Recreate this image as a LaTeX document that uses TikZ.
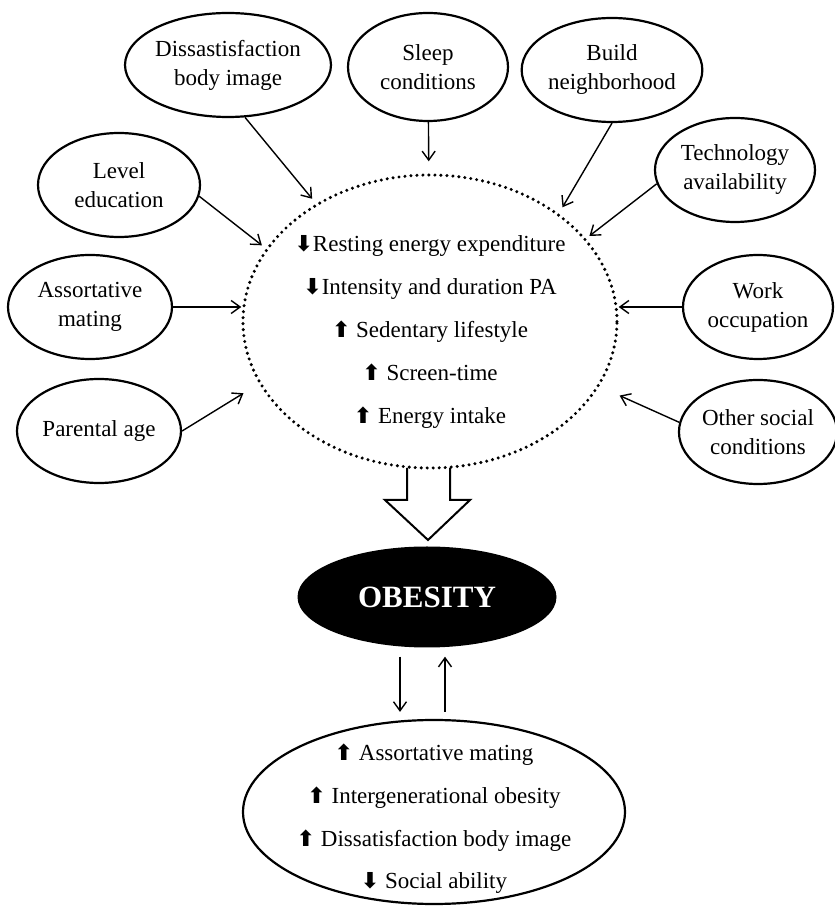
\documentclass[tikz,border=0pt]{standalone}
\usepackage{fontspec}
\setmainfont{Liberation Serif}
\newfontfamily\arrowfont{DejaVu Sans}
\usetikzlibrary{shapes.geometric,arrows.meta}
\newcommand{\incr}{{\arrowfont\bfseries\fontsize{22pt}{22pt}\selectfont ⬆}}
\newcommand{\decr}{{\arrowfont\bfseries\fontsize{22pt}{22pt}\selectfont ⬇}}

\begin{document}
\begin{tikzpicture}[x=1pt, y=1pt, font=\fontsize{23pt}{29pt}\selectfont,
	factor/.style={draw, ellipse, line width=2.2pt, inner sep=0pt, align=center, minimum height=104pt},
	link/.style={line width=1.4pt, -{Straight Barb[length=9pt,width=13pt,line width=1.4pt]}}]
	\useasboundingbox (0,0) rectangle (835,906);
	% factors round the centre
	\node[factor, minimum width=204pt] (dissat) at (228,841) {Dissastisfaction\\body image};
	\node[factor, minimum width=160pt, minimum height=108pt] (sleep) at (428,839) {Sleep\\conditions};
	\node[factor, minimum width=172pt] (build) at (612,836) {Build\\neighborhood};
	\node[factor, minimum width=160pt] (techno) at (735,736) {Technology\\availability};
	\node[factor, minimum width=162pt] (level) at (119,721) {Level\\education};
	\node[factor, minimum width=164pt] (assort) at (90,599) {Assortative\\mating};
	\node[factor, minimum width=164pt] (parental) at (99,475) {Parental age};
	\node[factor, minimum width=150pt] (work) at (758,599) {Work\\occupation};
	\node[factor, minimum width=156pt] (other) at (758,474) {Other social\\conditions};
	% energy balance
	\node[draw, ellipse, line width=3.4pt, line cap=round, dash pattern=on 0pt off 6pt, minimum width=374pt, minimum height=293pt] (centre) at (430,584.5) {};
	\node[align=center, font=\fontsize{23pt}{43pt}\selectfont] (balance) at (430,574) {\decr Resting energy expenditure\\\decr Intensity and duration PA\\\incr\ Sedentary lifestyle\\\incr\ Screen-time\\\incr\ Energy intake};
	\draw[link, shorten >=6pt] (dissat.-72) -- (centre.134);
	\draw[link, shorten >=12pt] (sleep) -- (centre);
	\draw[link, shorten >=7pt] (build.south) -- (centre.40);
	\draw[link, shorten >=4pt] (techno.190) -- (centre.28);
	\draw[link, shorten >=5pt] (level.-8) -- (centre.156);
	\draw[link] (assort.east) -- (assort.east -| centre.west);
	\draw[link, shorten >=18pt] (parental.east) -- (centre.200);
	\draw[link] (work.west) -- (work.west -| centre.east);
	\draw[link, shorten >=22pt] (other.173) -- (centre.-21);
	% hollow arrow
	\draw[line width=2pt, line join=miter] (407,438) -- (407,406) -- (385,406) -- (428,366) -- (470,406) -- (450,406) -- (450,438);
	\node[ellipse, fill=black, text=white, minimum width=259pt, minimum height=101pt, font=\fontsize{31pt}{31pt}\selectfont\bfseries] (obesity) at (427,309) {OBESITY};
	% consequences
	\node[factor, minimum width=382pt, minimum height=184pt] (effects) at (434,94) {};
	\node[align=center, font=\fontsize{23pt}{42.7pt}\selectfont] (effectstext) at (434,87) {\incr\ Assortative mating\\\incr\ Intergenerational obesity\\\incr\ Dissatisfaction body image\\\decr\ Social ability};
	\draw[link, shorten <=9pt, shorten >=7pt] ([xshift=-27pt]obesity.south) -- ([xshift=-27pt]obesity.south |- effects.north);
	\draw[link, shorten <=7pt, shorten >=9pt] ([xshift=18pt]obesity.south |- effects.north) -- ([xshift=18pt]obesity.south);
\end{tikzpicture}
\end{document}
